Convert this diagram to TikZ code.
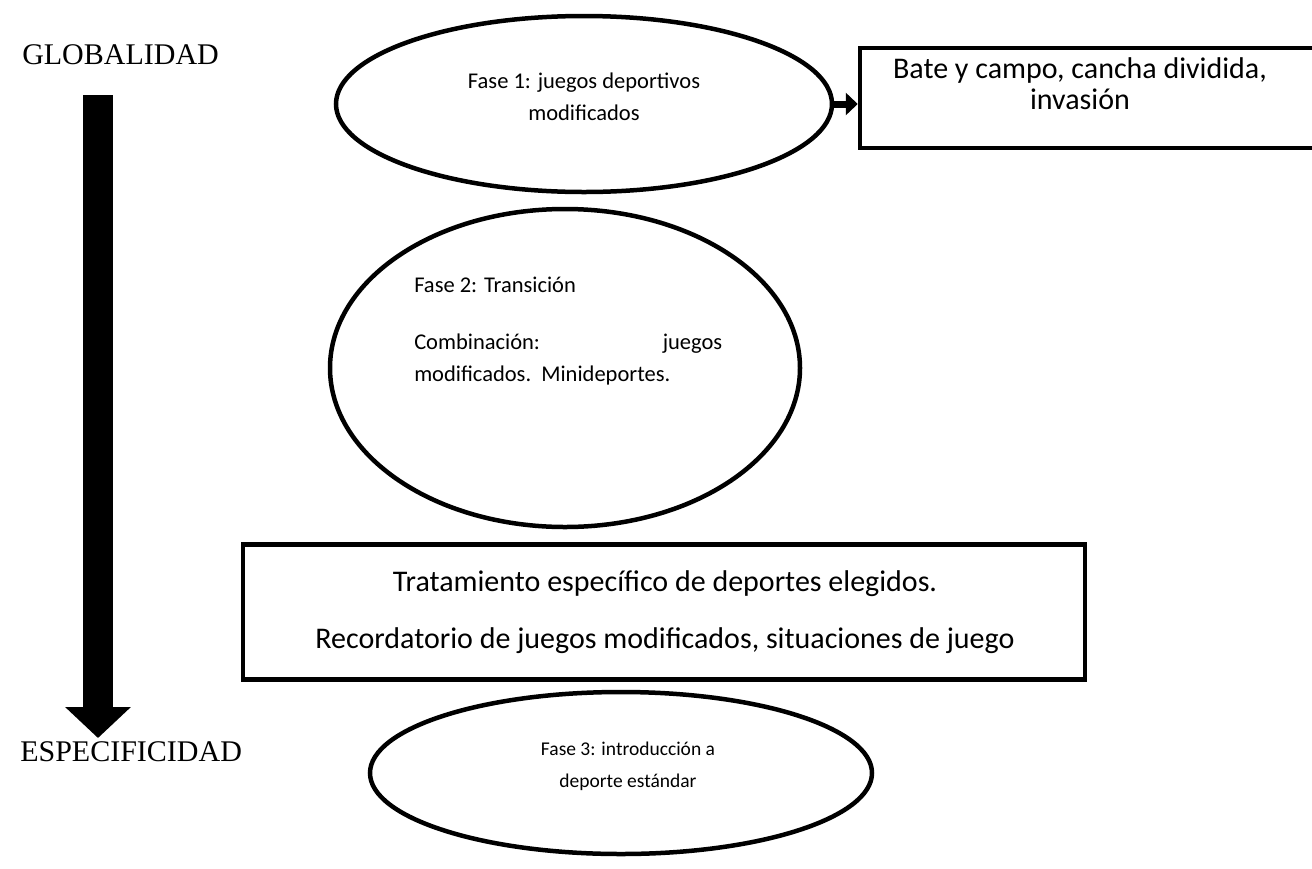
\documentclass[tikz,border=0pt]{standalone}
\usepackage{fontspec}
\setmainfont{Carlito}
\newfontfamily\timesfont{Liberation Serif}
\usetikzlibrary{arrows.meta,shapes.geometric}
\tikzset{every path/.style={black,line width=4.5pt}, fase/.style={draw,ellipse,inner sep=0pt}, caja/.style={draw,rectangle,inner sep=0pt}, txt/.style={align=center,inner sep=0pt,font=\fontsize{30}{31}\selectfont}, txtfase/.style={align=center,inner sep=0pt,font=\fontsize{22.5}{32}\selectfont}, polo/.style={anchor=west,inner sep=0pt,font=\timesfont\fontsize{30}{34}\selectfont}}

\begin{document}
\begin{tikzpicture}[x=1pt,y=-1pt]
  \useasboundingbox (0,0) rectangle (1312,868);
  \node[polo] (glob) at (20,55) {GLOBALIDAD};
  \node[polo] (espe) at (18,752) {ESPECIFICIDAD};
  \coordinate (gtop) at (98,95);
  \coordinate (gbot) at (98,738);
  \node[fase, minimum width=496pt, minimum height=176pt] (f1) at (584,104) {};
  \node[fase, minimum width=470pt, minimum height=318pt] (f2) at (565,368) {};
  \node[fase, minimum width=502pt, minimum height=162pt] (f3) at (621,773) {};
  \node[caja, minimum width=470pt, minimum height=100pt] (b1) at (1095,98) {};
  \node[caja, minimum width=842pt, minimum height=135pt] (b2) at (664,612) {};
  \node[txtfase] (t1) at (584,97) {Fase 1: juegos deportivos\\modificados};
  \node[txt] (t2) at (1080,84) {Bate y campo, cancha dividida,\\invasión};
  \node[txtfase, text width=308pt, align=flush left, anchor=north west] (t3) at (412,275)
    {Fase 2: Transición\\[25pt]Combinación:\hfill juegos\\modificados.\ \ Minideportes.};
  \node[txt] (t4) at (665,612) {Tratamiento específico de deportes elegidos.\\[26pt]Recordatorio de juegos modificados, situaciones de juego};
  \node[txtfase, font=\fontsize{19.5}{32}\selectfont] (t5) at (628,766) {Fase 3: introducción a\\deporte estándar};
  \draw[line width=30pt, -{Triangle[length=31pt,width=64pt]}] (gtop) -- (gbot);
  \draw[line width=7pt, -{Triangle[length=12pt,width=22pt]}] (f1.east) -- (f1.east -| b1.west);
\end{tikzpicture}
\end{document}
